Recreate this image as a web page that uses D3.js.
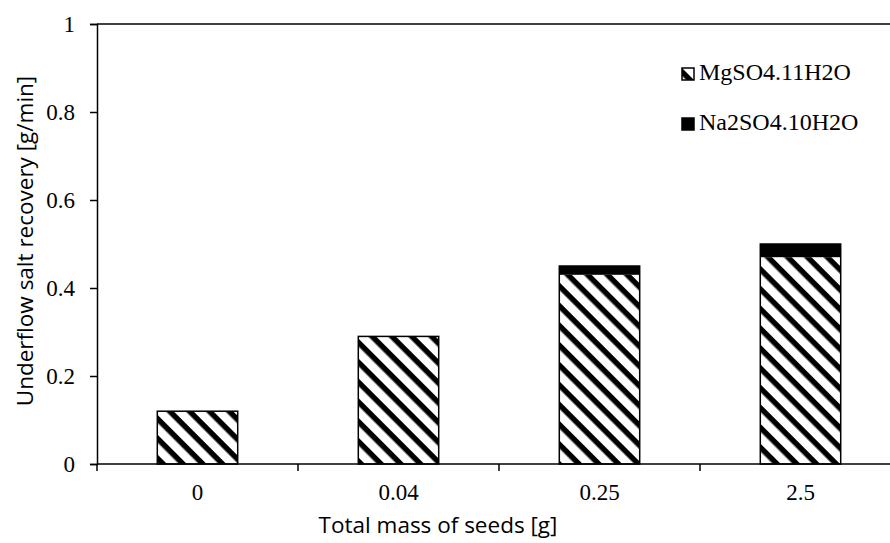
<!DOCTYPE html>
<html>
<head>
<meta charset="utf-8">
<script src="https://cdn.jsdelivr.net/npm/d3@7"></script>
<style>
  body { margin: 0; background: #fff; }
  svg { display: block; }
</style>
</head>
<body>
<div id="chart"></div>
<script>
var categories = ['0', '0.04', '0.25', '2.5'];
var mgValues = [0.12, 0.29, 0.43, 0.47];
var naValues = [0, 0, 0.02, 0.03];
var seriesNames = ['MgSO4.11H2O', 'Na2SO4.10H2O'];
var yTicks = [0, 0.2, 0.4, 0.6, 0.8, 1];

var W = 890, H = 543;
var margin = { top: 24, left: 97, bottom: 79 };
var plotRight = 901;
var plotH = H - margin.top - margin.bottom;

var svg = d3.select('#chart').append('svg')
  .attr('width', W)
  .attr('height', H);

var defs = svg.append('defs');
var pat = defs.append('pattern')
  .attr('id', 'hatch')
  .attr('patternUnits', 'userSpaceOnUse')
  .attr('width', 14)
  .attr('height', 14)
  .attr('patternTransform', 'rotate(45)');
pat.append('rect').attr('width', 14).attr('height', 14).attr('fill', '#fff');
pat.append('rect').attr('x', 0).attr('y', 0).attr('width', 14).attr('height', 5.5).attr('fill', '#000');

var x = d3.scaleBand()
  .domain(categories)
  .range([margin.left, plotRight])
  .paddingInner(0.6)
  .paddingOuter(0.3);

var y = d3.scaleLinear()
  .domain([0, 1])
  .range([margin.top + plotH, margin.top]);

var rows = categories.map(function (c, i) {
  return { cat: c, mg: mgValues[i], na: naValues[i] };
});

// MgSO4 part
svg.selectAll('.bar-mg')
  .data(rows)
  .enter()
  .append('rect')
  .attr('class', 'bar-mg')
  .attr('x', function (d) { return x(d.cat); })
  .attr('width', x.bandwidth())
  .attr('y', function (d) { return y(d.mg); })
  .attr('height', function (d) { return y(0) - y(d.mg); })
  .attr('fill', 'url(#hatch)');

// Na2SO4 part stacked on top
svg.selectAll('.bar-na')
  .data(rows.filter(function (d) { return d.na > 0; }))
  .enter()
  .append('rect')
  .attr('class', 'bar-na')
  .attr('x', function (d) { return x(d.cat); })
  .attr('width', x.bandwidth())
  .attr('y', function (d) { return y(d.mg + d.na); })
  .attr('height', function (d) { return y(d.mg) - y(d.mg + d.na); })
  .attr('fill', '#000');

// outline of each bar
svg.selectAll('.bar-outline')
  .data(rows)
  .enter()
  .append('rect')
  .attr('class', 'bar-outline')
  .attr('x', function (d) { return x(d.cat); })
  .attr('width', x.bandwidth())
  .attr('y', function (d) { return y(d.mg + d.na); })
  .attr('height', function (d) { return y(0) - y(d.mg + d.na); })
  .attr('fill', 'none')
  .attr('stroke', '#000')
  .attr('stroke-width', 1.5);

// top frame line
svg.append('line')
  .attr('x1', margin.left).attr('x2', W)
  .attr('y1', y(1)).attr('y2', y(1))
  .attr('stroke', '#000').attr('stroke-width', 1.5);

// y axis
var yAxis = svg.append('g')
  .attr('transform', 'translate(' + margin.left + ',0)')
  .call(d3.axisLeft(y).tickValues(yTicks).tickFormat(d3.format('~g')).tickSize(7).tickPadding(15));
yAxis.select('.domain').attr('stroke-width', 1.5);
yAxis.selectAll('.tick line').attr('stroke-width', 1.5);
yAxis.selectAll('text')
  .style('font-family', '"Liberation Serif", "Times New Roman", serif')
  .style('font-size', '23px')
  .attr('fill', '#000');

// x axis with ticks between categories
var bounds = d3.range(categories.length + 1).map(function (i) {
  return margin.left + i * x.step();
});
var xg = svg.append('g');
xg.append('line')
  .attr('x1', margin.left).attr('x2', W)
  .attr('y1', y(0)).attr('y2', y(0))
  .attr('stroke', '#000').attr('stroke-width', 1.5);
xg.selectAll('.xtick')
  .data(bounds)
  .enter()
  .append('line')
  .attr('x1', function (d) { return d; })
  .attr('x2', function (d) { return d; })
  .attr('y1', y(0))
  .attr('y2', y(0) + 7)
  .attr('stroke', '#000').attr('stroke-width', 1.5);
xg.selectAll('.xlabel')
  .data(categories)
  .enter()
  .append('text')
  .attr('x', function (d) { return x(d) + x.bandwidth() / 2; })
  .attr('y', y(0) + 36)
  .attr('text-anchor', 'middle')
  .style('font-family', '"Liberation Serif", "Times New Roman", serif')
  .style('font-size', '23px')
  .text(function (d) { return d; });

// axis titles
svg.append('text')
  .attr('x', 438)
  .attr('y', 533)
  .attr('text-anchor', 'middle')
  .style('font-family', '"Open Sans", sans-serif')
  .style('font-size', '22.5px')
  .text('Total mass of seeds [g]');

svg.append('text')
  .attr('transform', 'translate(33,241) rotate(-90)')
  .attr('text-anchor', 'middle')
  .style('font-family', '"Open Sans", sans-serif')
  .style('font-size', '22.5px')
  .text('Underflow salt recovery [g/min]');

// legend
var legend = svg.append('g').attr('transform', 'translate(682,0)');
var items = legend.selectAll('.item')
  .data(seriesNames)
  .enter()
  .append('g')
  .attr('transform', function (d, i) { return 'translate(0,' + (68 + i * 50) + ')'; });
items.append('rect')
  .attr('width', 12)
  .attr('height', 12)
  .attr('fill', function (d, i) { return i === 0 ? 'url(#hatch)' : '#000'; })
  .attr('stroke', '#000')
  .attr('stroke-width', 1.5);
items.append('text')
  .attr('x', 17)
  .attr('y', 12)
  .style('font-family', '"Liberation Serif", "Times New Roman", serif')
  .style('font-size', '24px')
  .text(function (d) { return d; });
</script>
</body>
</html>
